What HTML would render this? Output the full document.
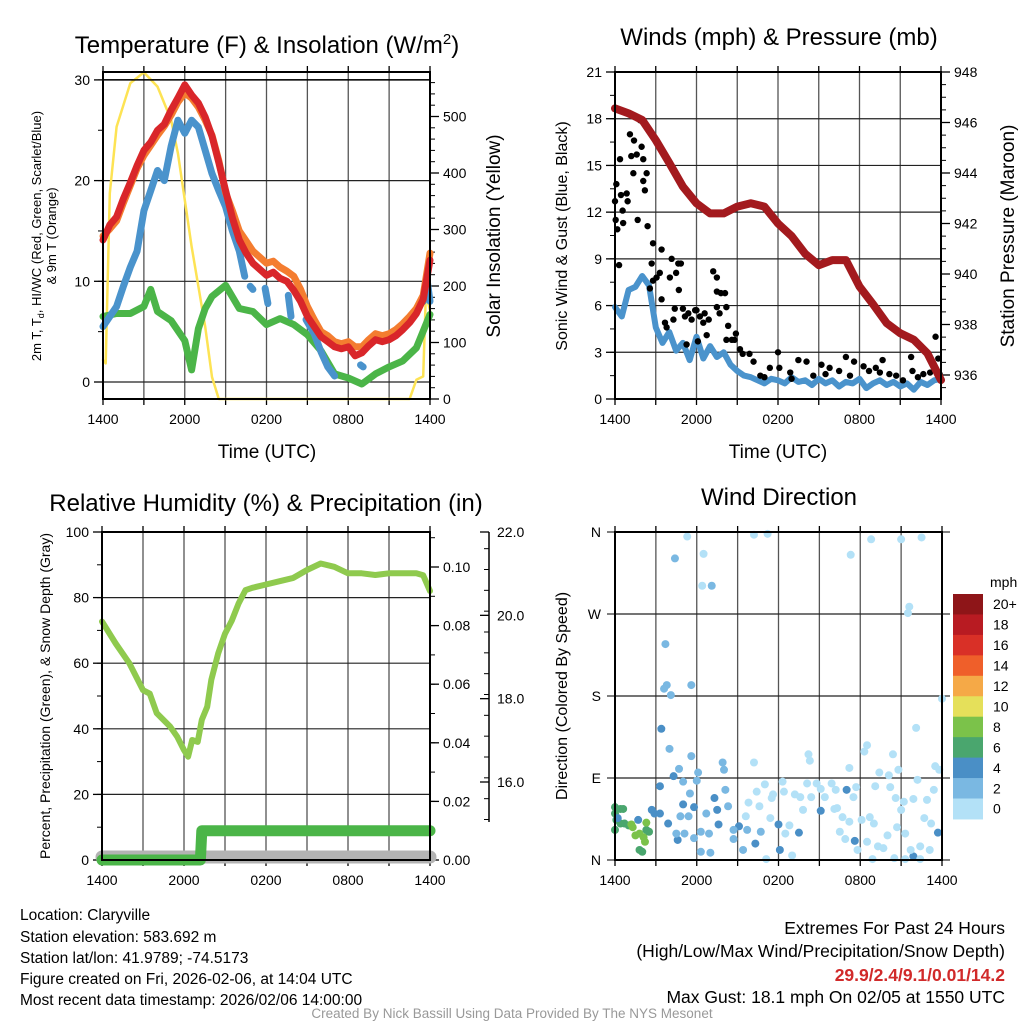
<!DOCTYPE html>
<html><head><meta charset="utf-8"><style>
html,body{margin:0;padding:0;background:#fff;}
svg{display:block;font-family:"Liberation Sans",sans-serif;}
</style></head><body>
<svg id="c" width="1024" height="1024" viewBox="0 0 1024 1024" xmlns="http://www.w3.org/2000/svg">
<rect width="1024" height="1024" fill="#fff"/>
<text x="267" y="53" font-size="24" text-anchor="middle">Temperature (F) &amp; Insolation (W/m<tspan dy="-9" font-size="15">2</tspan><tspan dy="9">)</tspan></text>
<text x="779" y="45" font-size="24" text-anchor="middle">Winds (mph) &amp; Pressure (mb)</text>
<text x="266" y="511" font-size="24" text-anchor="middle">Relative Humidity (%) &amp; Precipitation (in)</text>
<text x="779" y="505" font-size="24" text-anchor="middle">Wind Direction</text>
<text transform="translate(41,236) rotate(-90)" font-size="13" text-anchor="middle">2m T, T<tspan dy="3" font-size="9">d</tspan><tspan dy="-3">, HI/WC (Red, Green, Scarlet/Blue)</tspan></text>
<text transform="translate(56,236) rotate(-90)" font-size="13" text-anchor="middle">&amp; 9m T (Orange)</text>
<text transform="translate(500,236) rotate(-90)" font-size="19" text-anchor="middle">Solar Insolation (Yellow)</text>
<text x="267" y="458" font-size="19" text-anchor="middle">Time (UTC)</text>
<text x="778" y="458" font-size="19" text-anchor="middle">Time (UTC)</text>
<text transform="translate(567,236) rotate(-90)" font-size="16" text-anchor="middle">Sonic Wind &amp; Gust (Blue, Black)</text>
<text transform="translate(1014,236) rotate(-90)" font-size="19" text-anchor="middle">Station Pressure (Maroon)</text>
<text transform="translate(50,696) rotate(-90)" font-size="14" text-anchor="middle">Percent, Precipitation (Green), &amp; Snow Depth (Gray)</text>
<text transform="translate(567,696) rotate(-90)" font-size="16" text-anchor="middle">Direction (Colored By Speed)</text>
<g font-size="15.5">
<text x="20" y="920">Location: Claryville</text>
<text x="20" y="942">Station elevation: 583.692 m</text>
<text x="20" y="963">Station lat/lon: 41.9789; -74.5173</text>
<text x="20" y="984">Figure created on Fri, 2026-02-06, at 14:04 UTC</text>
<text x="20" y="1005">Most recent data timestamp: 2026/02/06 14:00:00</text>
</g>
<g font-size="17.5" text-anchor="end">
<text x="1005" y="934">Extremes For Past 24 Hours</text>
<text x="1005" y="957">(High/Low/Max Wind/Precipitation/Snow Depth)</text>
<text x="1005" y="981" fill="#d12a2a" font-weight="bold">29.9/2.4/9.1/0.01/14.2</text>
<text x="1005" y="1003">Max Gust: 18.1 mph On 02/05 at 1550 UTC</text>
</g>
<text x="512" y="1018" font-size="13.5" fill="#999" text-anchor="middle">Created By Nick Bassill Using Data Provided By The NYS Mesonet</text>
</svg>
<script>
// ---------- data ----------
const hourLabels=["1400","2000","0200","0800","1400"];
const tHours=[0,0.5,1,1.5,2,2.5,3,3.5,4,4.5,5,5.5,6,6.5,7,7.5,8,8.5,9,9.5,10,10.5,11,11.5,12,12.5,13,13.5,14,14.5,15,15.5,16,16.5,17,17.5,18,18.5,19,19.5,20,20.5,21,21.5,22,22.5,23,23.5,24];
const tempRed=[14.1,15.6,16.4,18.2,19.8,21.5,23,23.8,25,25.6,27,28.2,29.5,28.5,27.7,26.3,24.4,21.8,19,16.3,14.1,12.8,11.8,11.2,10.6,10.9,10.3,10.0,9.1,8.0,6.5,5.5,4.5,4.0,3.5,3.3,3.5,2.6,2.9,3.6,4.2,4.0,4.2,4.6,5.2,5.9,6.8,8.2,12.1];
const temp9m=[14.5,15.2,16,17.8,19.5,21.2,22.5,23.5,24.5,25.4,26.5,27.8,28.7,28.2,27.3,26.0,24.5,22.0,18.8,17.0,15,14.0,13,12.4,11.8,12.0,11.4,11.0,10.5,9.2,7.5,6.2,5,4.6,4,3.8,4,3.5,3.5,4.2,4.8,4.6,4.8,5.2,5.8,6.5,7.3,8.6,12.8];
const bHours=[0,0.5,1,1.5,2,2.5,3,3.5,4,4.5,5,5.5,6,6.5,7,7.5,8,8.5,9,9.5,10,10.4,10.5,10.8,11,11.1,11.9,12.1,12.2,13.6,13.8,14,14.9,15.5,16,16.5,17,17.1,18.9,19.1,19.2,23.5,23.8,24];
const windChill=[5.5,6.5,7.5,9.5,11.4,13,17,19,21,20,23.4,26,24.7,26,25.3,23,20.7,19,17.4,15,13,10.5,null,9.5,9.2,null,9.3,7.8,null,8.6,6.5,null,6.2,4.8,3,1.5,0.6,null,1.7,1.5,null,8,10,8];
const dHours=[0,1,2,3,3.5,4,5,6,6.5,7,7.5,8,9,10,11,12,13,14,15,16,17,18,19,20,21,22,23,24];
const dewpoint=[6.5,6.8,6.8,7.5,9.2,7,6.1,4.1,1.2,5.3,7.3,8.5,9.6,7.3,7,5.7,6.3,5.7,4.7,3.1,0.8,0.4,-0.2,0.8,1.5,2.1,3.4,6.7];
const sHours=[0,0.2,0.5,1,2,3,4,5,5.5,6,6.5,7,7.5,8,8.5,22.5,23,23.5,23.7,24];
const insolation=[69,63,364,482,559,578,553,494,435,352,270,199,128,39,0,0,34,40,187,157];
const pHours=[0,1,2,3,4,5,6,7,8,9,10,11,12,13,14,15,16,17,18,19,20,21,22,23,24];
const pressure=[946.56,946.36,946.1,945.3,944.4,943.46,942.8,942.4,942.4,942.67,942.8,942.67,942,941.5,940.8,940.35,940.55,940.55,939.5,938.8,938.05,937.65,937.4,936.86,935.8];
const sonicWind=[5.9,5.3,7,7.2,7.9,7.3,4.6,3.6,4.3,3.1,3.6,2.5,4,2.6,3.4,2.7,3.0,2.2,1.8,1.5,1.4,1.2,1.0,1.3,1.2,1.0,1.4,1.1,1.2,0.9,1.3,1.0,1.2,0.8,1.1,1.0,1.3,0.7,1.0,1.2,0.9,1.1,0.8,1.0,0.6,1.1,0.9,1.2,1.3];
const gustHours=[0,0.05,0.1,0.17,0.3,0.37,0.44,0.56,0.6,0.86,0.93,1.1,1.2,1.35,1.4,1.6,1.67,1.84,1.96,2.08,2.08,2.2,2.33,2.4,2.57,2.7,2.8,2.8,3.06,3.3,3.43,3.43,3.68,3.8,4.04,4.17,4.3,4.4,4.5,4.66,4.7,4.85,5,5.15,5.27,5.4,5.64,5.9,6,6.1,6.25,6.5,6.6,6.75,6.9,7.23,7.5,7.5,7.5,7.7,7.8,8.1,8.2,8.33,8.2,8.6,8.8,8.9,9.2,9.4,9.9,10.2,10.7,11.4,12,12.1,12.9,13.5,14.1,14.6,15.2,15.8,16.5,17,17.6,18.3,18.7,19.2,19.7,20.2,20.7,21.2,21.8,21.9,22.7,23.2,23.6,23.8,23.9,11,13,15.5,17.3,19.5,22.3];
const gusts=[12.7,11.5,13.8,10.9,8.6,15.4,13.1,12.1,11.3,13.2,12.7,17,15.6,14.5,16.6,15.7,11.5,17.9,16.2,15.4,14,13.4,14.5,11.1,7.1,8.7,10,7.6,7.8,8.1,9.6,6.4,4.9,4.6,7.8,9,5.1,5.8,8.1,8.7,7,8.7,5.8,5.3,3.5,5.5,5.1,5.7,5.7,3.7,5.3,4.9,5.5,4.1,5.1,8.2,7.8,6.9,5.9,5.5,6.8,6.8,5.9,4.7,3.8,3.8,3.8,4.2,3.2,2.9,2.9,2.4,1.5,2,3,2,1.7,2.5,2.4,1.5,2.2,2,1.8,2.7,2.4,2.1,1.8,2,2.5,1.6,1.5,1.2,2.7,1.8,1.6,1.7,4,2.6,1.6,1.4,1.3,1.6,1.5,1.7,1.4];
const rhHours=[0,1,2,3,3.5,4,5,5.5,6,6.3,6.6,7,7.3,7.7,8,8.5,9,9.5,10,10.5,11,12,13,14,15,16,17,18,19,20,21,22,23,23.5,24];
const humidity=[72.7,66,60,51.8,50.7,44.8,40.6,37.6,33.5,31.5,36.6,36,42.7,46.7,54.9,63,69,73,78.3,82.3,83,84,85,86,88.4,90.4,89.4,87.4,87.4,86.9,87.4,87.4,87.4,86.8,82];
const precipHours=[0,7.2,7.3,24];
const precip=[0,0,0.01,0.01];
const snowHours=[0,24];
const snowDepth=[14.2,14.2];
const dirHours=[0,0.4,0.6,0,0.1,0,0.4,0.7,1,1.2,1.3,1.5,1.8,2.1,2.2,2.3,2.5,2.3,1.8,2,1.7,0.2,2.7,2.9,3.3,3.3,3.4,4.3,5,3.9,4.6,5.8,7.3,7.5,7.6,9.1,10.3,12.1,12,15.1,13.5,17,17.6,23.7,21.9,3.7,3.8,3.6,4.1,4,4.4,4.7,5.3,5.6,5.6,6.5,6.4,7.1,5,5.5,4.8,5.4,6,6.1,4.5,5.1,5.8,6.3,6.3,6.9,7,6.7,7.9,8,8.1,8.3,8.7,8.7,9.4,9.7,10.7,10.2,11.2,10.2,11,10.4,9.8,9.6,10.6,11.5,11.6,11.4,12.5,12.8,12.3,12.4,13.2,13.6,13.8,14.4,14.8,15.1,15.4,15.9,16.2,16.3,16.7,16.5,16.9,17.2,17.5,17.7,17.8,18.1,18.5,18.7,19,19.1,19.4,19.3,19.7,20.1,20.2,20.4,20.6,20.7,20.8,21,21.2,21.3,21.7,21.9,22.1,22.2,22.4,22.7,22.9,23.1,23.2,23.4,23.5,23.8,24,18.5,18.3,17.2,14.2,14.3,17.3,18.8,21,22.5,21.6,21.5,13,14.1,16.1,20.5,21.3,22.4,18.9,20,11.1];
const directions=[58,56,56,51,44,33,40,40,38,39,36,27,29,25,20,33,31,41,11,9,44,46,55,51,51,81,144,92,61,40,22,58,68,55,39,37,18,11,39,54,30,77,21,30,4,237,192,188,181,122,331,100,355,114,192,336,301,301,86,73,48,48,87,96,29,29,24,31,9,29,8,51,107,99,77,59,33,23,11,33,31,357,358,107,83,75,63,48,59,68,72,46,29,38,86,75,72,69,55,69,84,78,69,84,77,57,47,31,23,42,69,80,11,44,20,47,40,81,96,15,13,93,80,116,68,36,99,55,64,29,11,67,145,88,15,46,66,11,40,77,103,99,177,126,119,101,116,109,335,352,352,354,278,271,5,84,56,2,1,1,1,27,1];
const dirSpeeds=[7,7,7,7,7,7,7,7,7,9,9,9,9,9,9,7,7,9,7,7,5,5,5,5,5,5,5,5,5,5,5,5,5,5,5,5,5,5,5,5,5,5,5,5,5,3,3,3,3,3,3,3,1,3,3,1,1,3,3,3,3,3,3,3,3,3,3,3,3,3,3,3,3,3,3,3,3,3,3,3,3,1,1,1,1,1,1,1,1,1,1,1,1,1,1,1,1,1,1,1,1,1,1,1,1,1,1,1,1,1,1,1,1,1,1,1,1,1,1,1,1,1,1,1,1,1,1,1,1,1,1,1,1,1,1,1,1,1,1,1,1,1,1,1,1,1,1,1,1,1,1,1,1,1,1,1,1,1,1,1,1,1,1];
const speedBinLabels=["20+","18","16","14","12","10","8","6","4","2","0"];
const speedBinColors=["#8e1518","#b81b22","#d93027","#ef5f2a","#f5a947","#e5e05a","#7bc24a","#4aa66e","#4a8fc6","#7ab8e2","#b3e1f7"];
// ---------- drawing ----------
const NS="http://www.w3.org/2000/svg";
const svg=document.getElementById('c');
function el(tag,attrs,parent){const e=document.createElementNS(NS,tag);for(const k in attrs)e.setAttribute(k,attrs[k]);(parent||svg).appendChild(e);return e;}
function lin(d0,d1,r0,r1){return v=>r0+(v-d0)*(r1-r0)/(d1-d0);}
const P1={x0:103,x1:430,y0:72,y1:399},P2={x0:615,x1:941,y0:72,y1:399},P3={x0:102,x1:430,y0:532,y1:860},P4={x0:615,x1:942,y0:532,y1:860};
function frame(P,name,hGrid,yL){
  const g=el('g',{});
  
  
  const xs=lin(0,24,P.x0,P.x1);
  for(let h=3;h<24;h+=3){const l=el('line',{x1:xs(h),x2:xs(h),y1:P.y0,y2:P.y1,stroke:'#555','stroke-width':1.3},g);}
  hGrid.forEach(v=>{const l=el('line',{x1:P.x0,x2:P.x1,y1:yL(v),y2:yL(v),stroke:'#222','stroke-width':1.2},g);});
  for(let h=0;h<=24;h+=3){el('line',{x1:xs(h),x2:xs(h),y1:P.y1,y2:P.y1+6,stroke:'#000','stroke-width':1.3},g);el('line',{x1:xs(h),x2:xs(h),y1:P.y0,y2:P.y0-6,stroke:'#000','stroke-width':1.3},g);}
  hourLabels.forEach((t,i)=>{const tx=el('text',{x:xs(i*6),y:P.y1+25,'font-size':14,'text-anchor':'middle'},g);tx.textContent=t;});
  return xs;
}
function border(P,name){const r=el('rect',{x:P.x0,y:P.y0,width:P.x1-P.x0,height:P.y1-P.y0,fill:'none',stroke:'#000','stroke-width':2});}
function yAxis(P,scale,majors,minors,fmt,side,name){
  const g=el('g',{});
  
  
  const x=side==='l'?P.x0:P.x1, dir=side==='l'?-1:1;
  minors.forEach(v=>el('line',{x1:x,x2:x+dir*5,y1:scale(v),y2:scale(v),stroke:'#000','stroke-width':1},g));
  majors.forEach(v=>{el('line',{x1:x,x2:x+dir*9,y1:scale(v),y2:scale(v),stroke:'#000','stroke-width':1.3},g);
    const t=el('text',{x:x+dir*13,y:scale(v)+5,'font-size':14,'text-anchor':side==='l'?'end':'start'},g);t.textContent=fmt(v);});
}
function range(a,b,s){const r=[];for(let v=a;v<=b+1e-9;v+=s)r.push(+v.toFixed(4));return r;}
function line(xs,ys,hs,vs,color,w,name){
  const g=el('g',{});
  
  
  let seg=[];
  const flush=()=>{if(seg.length>1){el('polyline',{points:seg.join(' '),fill:'none',stroke:color,'stroke-width':w,'stroke-linejoin':'round','stroke-linecap':'round'},g);}else if(seg.length===1){const p=seg[0].split(',');el('circle',{cx:p[0],cy:p[1],r:w/2,fill:color},g);}seg=[];};
  hs.forEach((h,i)=>{if(vs[i]===null){flush();return;}seg.push(xs(h).toFixed(1)+','+ys(vs[i]).toFixed(1));});
  flush();
}
// Panel 1
const t1=lin(0,10,382,281.3), s1=lin(0,100,399,342.5);
const x1=frame(P1,'temperature',[0,10,20,30],t1);
yAxis(P1,t1,[0,10,20,30],range(-1,31,1).filter(v=>v%5===0),v=>v,'l','temperature-y-axis');
yAxis(P1,s1,[0,100,200,300,400,500],range(0,560,20),v=>v,'r','insolation-y-axis');
line(x1,s1,sHours,insolation,'#fde354',2.5,'insolation-line');
line(x1,t1,dHours,dewpoint,'#4bb548',7,'dewpoint-line');
line(x1,t1,bHours,windChill,'#4a93cc',7,'windchill-line');
line(x1,t1,tHours,temp9m,'#f47d30',7,'temp-9m-line');
line(x1,t1,tHours,tempRed,'#d9262a',7,'temp-2m-line');
el('line',{x1:P1.x0,x2:P1.x1,y1:t1(30),y2:t1(30),stroke:'#000','stroke-width':1.5});
border(P1,'temperature');
// Panel 2
const w2=lin(0,21,399,72), p2=lin(936,948,375,72);
const x2=frame(P2,'winds',range(3,18,3),w2);
yAxis(P2,w2,range(0,21,3),range(0,21,1.5),v=>v,'l','wind-y-axis');
yAxis(P2,p2,range(936,948,2),range(935.5,948,0.5),v=>v,'r','pressure-y-axis');
line(x2,w2,sonicWind.map((_,i)=>i*0.5),sonicWind,'#4a93cc',6,'sonic-wind-line');
{const g=el('g',{});
gustHours.forEach((h,i)=>{const c=el('circle',{cx:x2(h),cy:w2(gusts[i]),r:3.2,fill:'#000'},g);});}
line(x2,p2,pHours,pressure,'#a31a1e',8,'pressure-line');
border(P2,'winds');
// Panel 3
const r3=lin(0,100,860,532), pr3=lin(0,0.1,860,567), sn3=lin(16,22,782,532);
const x3=frame(P3,'humidity',[20,40,60,80],r3);
yAxis(P3,r3,range(0,100,20),range(0,100,10),v=>v,'l','humidity-y-axis');
yAxis(P3,pr3,range(0,0.1,0.02),range(0,0.11,0.01),v=>v.toFixed(2),'r','precip-y-axis');
{const g=el('g',{});
el('line',{x1:489,x2:489,y1:532,y2:822,stroke:'#000','stroke-width':1.5},g);
range(14.6,22,0.5).forEach(v=>{if(sn3(v)<=822)el('line',{x1:489,x2:484,y1:sn3(v),y2:sn3(v),stroke:'#000'},g);});
[16,18,20,22].forEach(v=>{el('line',{x1:489,x2:480,y1:sn3(v),y2:sn3(v),stroke:'#000','stroke-width':1.3},g);const t=el('text',{x:497,y:sn3(v)+5,'font-size':14},g);t.textContent=v.toFixed(1);});}
const snowClamp=v=>Math.min(sn3(v),P3.y1-2);
line(x3,snowClamp,snowHours,snowDepth,'#b3b3b3',13,'snow-depth-line');
line(x3,pr3,precipHours,precip,'#4bb548',11,'precip-line');
line(x3,r3,rhHours,humidity,'#8fca4e',6,'humidity-line');
border(P3,'humidity');
// Panel 4
const d4=lin(0,360,860,532);
const x4=frame(P4,'direction',[90,180,270],d4);
{const g=el('g',{});
["N","E","S","W","N"].forEach((t,i)=>{el('line',{x1:P4.x0,x2:P4.x0-8,y1:d4(i*90),y2:d4(i*90),stroke:'#000'},g);el('line',{x1:P4.x1,x2:P4.x1+8,y1:d4(i*90),y2:d4(i*90),stroke:'#000'},g);const tx=el('text',{x:P4.x0-14,y:d4(i*90)+5,'font-size':14,'text-anchor':'end'},g);tx.textContent=t;});}
function speedColor(s){const b=Math.min(10,Math.floor(s/2));return speedBinColors[10-b];}
{const g=el('g',{});
dirHours.forEach((h,i)=>{const c=el('circle',{cx:x4(h),cy:d4(directions[i]),r:4,fill:speedColor(dirSpeeds[i])},g);});}
border(P4,'direction');
// colorbar
{const g=el('g',{});
const t=el('text',{x:990,y:587,'font-size':14},g);t.textContent='mph';
const bh=20.45;
speedBinColors.forEach((c,i)=>{const r=el('rect',{x:953,y:594+i*bh,width:30,height:bh+0.5,fill:c},g);
const lb=el('text',{x:993,y:594+i*bh+bh/2+5,'font-size':14},g);lb.textContent=speedBinLabels[i];});}
</script>
</body></html>
